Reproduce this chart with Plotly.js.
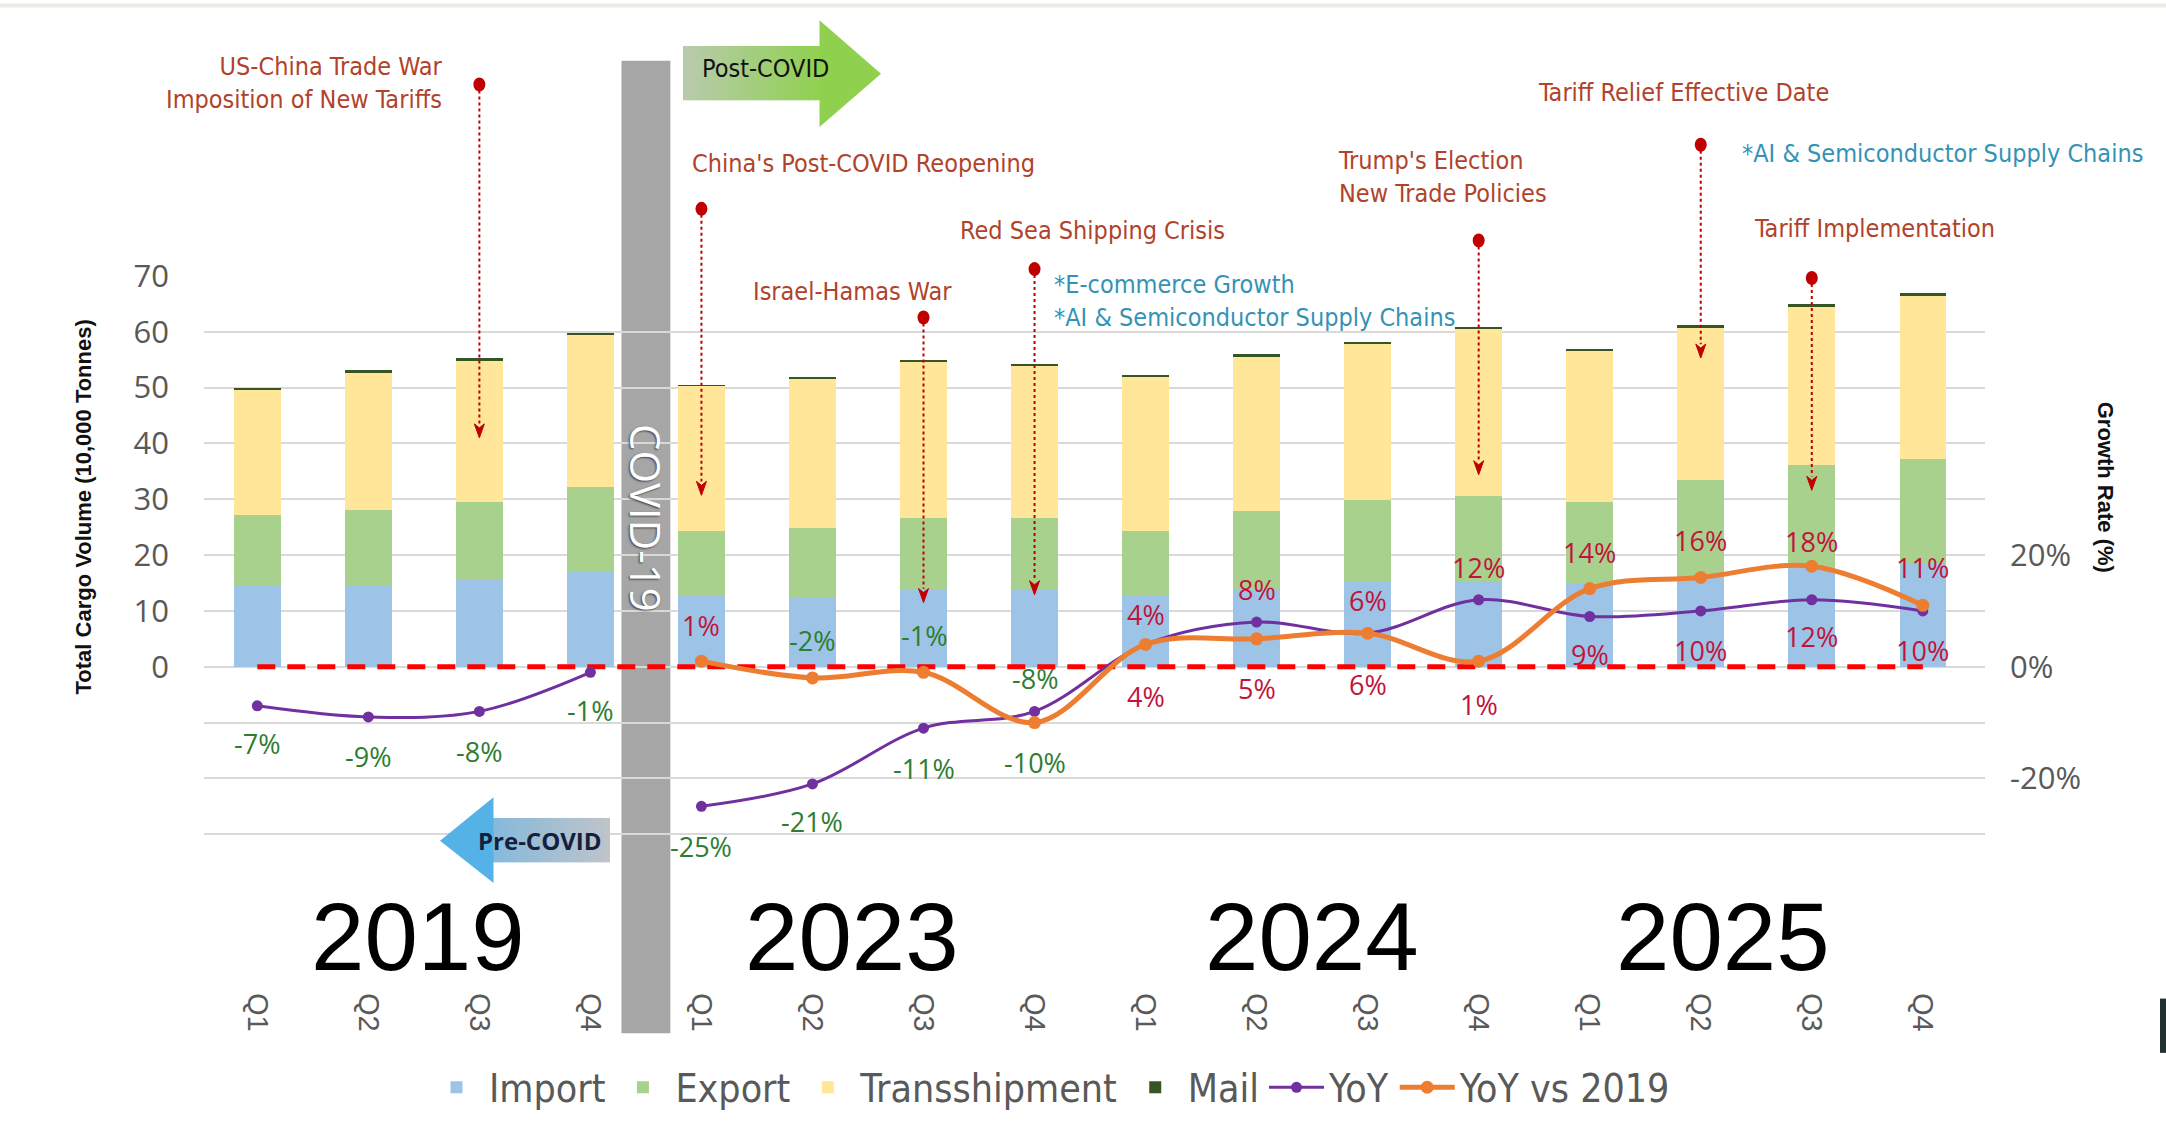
<!DOCTYPE html>
<html><head><meta charset="utf-8">
<script src="https://cdn.plot.ly/plotly-3.0.1.min.js"></script>
<style>html,body{margin:0;padding:0;background:#fff;}#chart{width:2166px;height:1132px;}</style>
</head><body><div id="chart"></div>
<script>
// ---------------- DATA ----------------
const categories = ['2019 Q1','2019 Q2','2019 Q3','2019 Q4','2023 Q1','2023 Q2','2023 Q3','2023 Q4','2024 Q1','2024 Q2','2024 Q3','2024 Q4','2025 Q1','2025 Q2','2025 Q3','2025 Q4'];
const quarterLabels = ['Q1','Q2','Q3','Q4','Q1','Q2','Q3','Q4','Q1','Q2','Q3','Q4','Q1','Q2','Q3','Q4'];
const yearLabels = ['2019','2023','2024','2025'];
const importVol = [14.6,14.6,15.8,17.2, 12.7,12.5,13.7,13.8, 12.6,13.8,15.2,15.3, 14.9,16.5,17.6,18.4];
const exportVol = [12.6,13.4,13.7,15.0, 11.7,12.3,13.0,12.9, 11.8,14.1,14.7,15.2, 14.6,16.9,18.5,18.9];
const transshipVol = [22.4,24.6,25.2,27.3, 25.9,26.8,27.9,27.2, 27.5,27.6,28.0,30.0, 27.1,27.3,28.3,29.1];
const mailVol = [0.3,0.5,0.6,0.2, 0.2,0.3,0.3,0.3, 0.3,0.5,0.3,0.4, 0.4,0.5,0.6,0.6];
const yoyGrowth = [-7,-9,-8,-1, -25,-21,-11,-8, 4,8,6,12, 9,10,12,10];
const yoyVs2019Categories = categories.slice(4);
const yoyVs2019 = [1,-2,-1,-10, 4,5,6,1, 14,16,18,11];
const leftTicks = [-40,-30,-20,-10,0,10,20,30,40,50,60,70];
const rightTicks = [-20,0,20];
const eventLabels = ['US-China Trade War<br>Imposition of New Tariffs',"China's Post-COVID Reopening",'Israel-Hamas War','Red Sea Shipping Crisis',"Trump's Election<br>New Trade Policies",'Tariff Relief Effective Date','Tariff Implementation'];
const eventQuarters = ['2019 Q3','2023 Q1','2023 Q3','2023 Q4','2024 Q4','2025 Q2','2025 Q3'];
const trendLabels = ['*E-commerce Growth<br>*AI & Semiconductor Supply Chains','*AI & Semiconductor Supply Chains'];

// ---------------- STYLE / POSITIONS ----------------
const L=204, R=1985, T=276, B=898, W=R-L, H=B-T;
const px = X => (X-L)/W;
const py = Y => (B-Y)/H;
const YMIN=-40, YMAX=70;
const vp = v => (v-YMIN)/(YMAX-YMIN);
const idx = c => categories.indexOf(c);

const yoySplit = 4; // line break across COVID gap
const yoyLabelShift = [-38,-40,-40,-38, -40,-38,-40,33, 30,33,33,32, -38,-40,-37,-40];
const vsLabelShift = [36,37,37,-40, -52,-50,-51,-43, 36,37,25,38];
const eventLabelX = [445,690,751,958,1336,1536,1752];
const eventLabelY = [80,162,292,230,176,90,228];
const eventAnchor = ['right','left','left','left','left','left','left'];
const eventDotY = [82,208,318,269,240,143,278];
const eventTip = [41,30.7,11.5,12.9,34.4,55.3,31.6];
const trendX = [1052,1740], trendY = [301,152];

const brown = '#B0432A', teal = '#3592B5', evRed = '#C00000';
const posRed = '#C0143C', negGreen = '#2E7D32';
const narrow = '"Liberation Sans Narrow", "DejaVu Sans Condensed", "Arial Narrow", sans-serif';
const sans = '"Open Sans", "Noto Sans", sans-serif';
const arial = '"Liberation Sans", Arial, sans-serif';

// ---------------- TRACES ----------------
const traces = [
  {type:'bar', name:'Import', x:categories, y:importVol, marker:{color:'#9DC3E6'}, yaxis:'y'},
  {type:'bar', name:'Export', x:categories, y:exportVol, marker:{color:'#A9D18E'}, yaxis:'y'},
  {type:'bar', name:'Transshipment', x:categories, y:transshipVol, marker:{color:'#FFE699'}, yaxis:'y'},
  {type:'bar', name:'Mail', x:categories, y:mailVol, marker:{color:'#375623'}, yaxis:'y'},
  {type:'scatter', mode:'lines', x:[categories[0], categories[categories.length-1]], y:[0,0], yaxis:'y2',
   line:{color:'#FF0000', width:5, dash:'18px,12px'}, showlegend:false, hoverinfo:'skip'},
  {type:'scatter', mode:'lines+markers', name:'YoY', legendgroup:'yoy', showlegend:false,
   x:categories.slice(0,yoySplit), y:yoyGrowth.slice(0,yoySplit), yaxis:'y2',
   line:{color:'#7030A0', width:3, shape:'spline', smoothing:1}, marker:{color:'#7030A0', size:11}},
  {type:'scatter', mode:'lines+markers', name:'YoY', legendgroup:'yoy',
   x:categories.slice(yoySplit), y:yoyGrowth.slice(yoySplit), yaxis:'y2',
   line:{color:'#7030A0', width:3, shape:'spline', smoothing:1}, marker:{color:'#7030A0', size:11}},
  {type:'scatter', mode:'lines+markers', name:'YoY vs 2019',
   x:yoyVs2019Categories, y:yoyVs2019, yaxis:'y2',
   line:{color:'#ED7D31', width:5, shape:'spline', smoothing:1}, marker:{color:'#ED7D31', size:13}}
];

// ---------------- SHAPES ----------------
const shapes = [];
function lerpColor(a,b,t){
  const pa=[1,3,5].map(i=>parseInt(a.substr(i,2),16)), pb=[1,3,5].map(i=>parseInt(b.substr(i,2),16));
  return 'rgb('+pa.map((v,i)=>Math.round(v+(pb[i]-v)*t)).join(',')+')';
}
function gradientRect(x0,x1,y0,y1,c0,c1,n){
  for(let i=0;i<n;i++){
    const a=x0+(x1-x0)*i/n, b=x0+(x1-x0)*(i+1)/n+0.8;
    shapes.push({type:'rect', xref:'paper', yref:'paper', x0:px(a), x1:px(Math.min(b,x1)), y0:py(y1), y1:py(y0),
      fillcolor:lerpColor(c0,c1,(i+0.5)/n), line:{width:0}, layer:'above'});
  }
}
shapes.push({type:'rect', xref:'paper', yref:'paper', x0:px(0), x1:px(2166), y0:py(4), y1:py(0), fillcolor:'#ECEBE3', line:{width:0}});
shapes.push({type:'rect', xref:'paper', yref:'paper', x0:px(2160), x1:px(2166), y0:py(1063), y1:py(1008), fillcolor:'#22302F', line:{width:0}});
// COVID band
shapes.push({type:'rect', xref:'x', yref:'paper', x0:3.28, x1:3.72, y0:py(1043), y1:py(58), fillcolor:'#A6A6A6', line:{width:0}, layer:'below'});
// Post-COVID arrow
gradientRect(683,820,43,98,'#B9CAAE','#8FD14F',24);
shapes.push({type:'path', xref:'paper', yref:'paper', layer:'above', fillcolor:'#8FD14F', line:{width:0},
  path:`M ${px(819.5)} ${py(17)} L ${px(881)} ${py(71)} L ${px(819.5)} ${py(125)} Z`});
// Pre-COVID arrow
gradientRect(493,610,825,870,'#86B9DC','#BFC4C9',24);
shapes.push({type:'path', xref:'paper', yref:'paper', layer:'above', fillcolor:'#55B2E6', line:{width:0},
  path:`M ${px(493.5)} ${py(804)} L ${px(440)} ${py(848)} L ${px(493.5)} ${py(891)} Z`});
// events
eventQuarters.forEach((q,i)=>{
  const xi = idx(q);
  shapes.push({type:'line', xref:'x', yref:'paper', x0:xi, x1:xi, y0:py(eventDotY[i]), y1:vp(eventTip[i])+14/H,
    line:{color:evRed, width:2, dash:'dot'}, layer:'above'});
  shapes.push({type:'circle', xref:'x', yref:'paper', xsizemode:'pixel', ysizemode:'pixel', xanchor:xi, yanchor:py(eventDotY[i]),
    x0:-6, x1:6, y0:-7, y1:7, fillcolor:evRed, line:{width:0}, layer:'above'});
  shapes.push({type:'path', xref:'x', yref:'paper', xsizemode:'pixel', ysizemode:'pixel', xanchor:xi, yanchor:vp(eventTip[i]),
    path:'M -5 14 L 0 10 L 5 14 L 0 0 Z', fillcolor:evRed, line:{color:evRed, width:1}, layer:'above'});
});

// ---------------- ANNOTATIONS ----------------
const ann = [];
eventLabels.forEach((t,i)=>ann.push({xref:'paper', yref:'paper', x:px(eventLabelX[i]), y:py(eventLabelY[i]), xanchor:eventAnchor[i], yanchor:'middle',
  align:eventAnchor[i], text:t, showarrow:false, font:{family:narrow, size:25, color:brown}}));
trendLabels.forEach((t,i)=>ann.push({xref:'paper', yref:'paper', x:px(trendX[i]), y:py(trendY[i]), xanchor:'left', yanchor:'middle',
  align:'left', text:t, showarrow:false, font:{family:narrow, size:25, color:teal}}));
yoyGrowth.forEach((v,i)=>ann.push({xref:'x', yref:'y2', x:categories[i], y:v, yshift:yoyLabelShift[i], text:v+'%', showarrow:false,
  font:{family:sans, size:27, color: v<0?negGreen:posRed}}));
yoyVs2019.forEach((v,i)=>ann.push({xref:'x', yref:'y2', x:yoyVs2019Categories[i], y:v, yshift:vsLabelShift[i], text:v+'%', showarrow:false,
  font:{family:sans, size:27, color: v<0?negGreen:posRed}}));
const yearX = [1.45,5.36,9.5,13.2];
yearLabels.forEach((t,i)=>ann.push({xref:'x', yref:'paper', x:yearX[i], y:py(945), yanchor:'middle', text:t, showarrow:false,
  font:{family:arial, size:96, color:'#000'}}));
ann.push({xref:'paper', yref:'paper', x:px(700), y:py(66), xanchor:'left', yanchor:'middle', text:'Post-COVID', showarrow:false,
  font:{family:narrow, size:25, color:'#111'}});
ann.push({xref:'paper', yref:'paper', x:px(540), y:py(848), xanchor:'center', yanchor:'middle', text:'<b>Pre-COVID</b>', showarrow:false,
  font:{family:sans, size:24, color:'#14213D'}});
ann.push({xref:'x', yref:'paper', x:3.5, y:py(521), textangle:90, text:'COVID-19', showarrow:false,
  font:{family:sans, size:42, color:'#FFFFFF', shadow:'1px 1px 2px #444'}});
ann.push({xref:'paper', yref:'paper', x:px(69), y:py(510), textangle:-90, text:'<b>Total Cargo Volume (10,000 Tonnes)</b>', showarrow:false,
  font:{family:arial, size:22, color:'#111'}});
ann.push({xref:'paper', yref:'paper', x:px(2120), y:py(490), textangle:90, text:'<b>Growth Rate (%)</b>', showarrow:false,
  font:{family:arial, size:22, color:'#111'}});

const layout = {
  width:2166, height:1132, paper_bgcolor:'#FFFFFF', plot_bgcolor:'#FFFFFF',
  margin:{l:L, r:2166-R, t:T, b:1132-B, pad:0},
  barmode:'stack', bargap:0.58,
  font:{family:sans, color:'#595959'},
  xaxis:{type:'category', categoryorder:'array', categoryarray:categories, range:[-0.48,15.56],
    tickvals:categories, ticktext:quarterLabels, tickangle:90, ticks:'', showline:false, showgrid:false, zeroline:false,
    tickfont:{family:arial, size:29, color:'#595959'}, ticklabelstandoff:102, fixedrange:true},
  yaxis:{range:[YMIN,YMAX], tickvals:leftTicks, ticktext:leftTicks.map(v=>v<0?'':String(v)), showgrid:true, gridcolor:'#D9D9D9', gridwidth:2,
    zeroline:false, showline:false, ticks:'', tickfont:{family:sans, size:31, color:'#595959'}, ticklabelstandoff:34},
  yaxis2:{overlaying:'y', side:'right', range:[YMIN,YMAX], tickvals:rightTicks, ticktext:rightTicks.map(v=>v+'%'), showgrid:false,
    zeroline:false, showline:false, ticks:'', tickfont:{family:sans, size:31, color:'#595959'}, ticklabelstandoff:24},
  legend:{orientation:'h', x:px(1050), xanchor:'center', y:py(1098), yanchor:'middle', font:{family:narrow, size:39, color:'#595959'},
    bgcolor:'rgba(0,0,0,0)', itemwidth:55, traceorder:'normal'},
  shapes:shapes, annotations:ann, showlegend:true
};
Plotly.newPlot('chart', traces, layout, {staticPlot:true, displayModeBar:false});
</script></body></html>
